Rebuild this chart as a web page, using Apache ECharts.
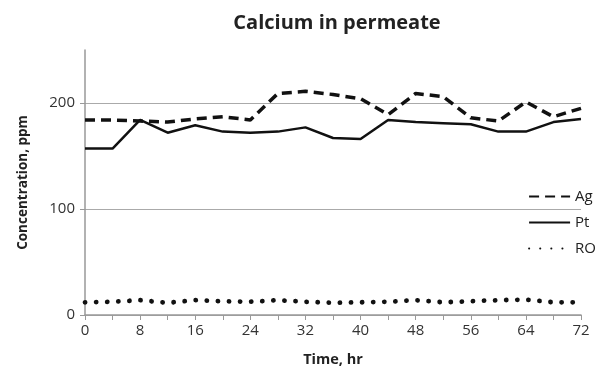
<!DOCTYPE html>
<html><head><meta charset="utf-8">
<script src="https://cdn.jsdelivr.net/npm/echarts@6/dist/echarts.min.js"></script>
<style>html,body{margin:0;padding:0;background:#fff}#c{width:607px;height:372px}</style>
</head><body><div id="c"></div>
<script>
const hours = [0,4,8,12,16,20,24,28,32,36,40,44,48,52,56,60,64,68,72];
const agValues = [184,184,183,182,185,187,184,209,211,208,204,189,209,206,186,183,201,187,195];
const ptValues = [157,157,184,172,179,173,172,173,177,167,166,184,182,181,180,173,173,182,185];
const roValues = [12,12.5,14,11.5,14,13,12.5,14,12.5,11.5,12,12.5,14,12,13,14,14.5,12,12];
const seriesNames = ['Ag','Pt','RO'];
const font = 'Open Sans';
const pair = v => hours.map((h,i)=>[h,v[i]]);
const chart = echarts.init(document.getElementById('c'));
chart.setOption({
  animation:false,
  textStyle:{fontFamily:font},
  title:{text:'Calcium in permeate',left:332,textAlign:'center',top:8,
    textStyle:{fontFamily:font,fontSize:20,fontWeight:'bold',color:'#222'}},
  grid:{left:85,right:26,top:50,bottom:55},
  legend:{orient:'vertical',right:6,top:184,itemGap:11,itemWidth:41,itemHeight:14,
    data:seriesNames,itemStyle:{opacity:0},
    textStyle:{fontFamily:font,fontSize:15,color:'#222'}},
  xAxis:{type:'value',min:0,max:72,interval:4,
    name:'Time, hr',nameLocation:'middle',nameGap:37,
    nameTextStyle:{fontFamily:font,fontWeight:'bold',fontSize:14.5,color:'#222'},
    axisLine:{lineStyle:{color:'#999',width:1.5}},
    axisTick:{show:true,length:5,lineStyle:{color:'#999'}},
    splitLine:{show:false},
    axisLabel:{fontFamily:font,fontSize:15,color:'#333',margin:8,
      formatter:v=> (v%8===0? String(v):'')}},
  yAxis:{type:'value',min:0,max:250,interval:100,
    name:'Concentration, ppm',nameLocation:'middle',nameGap:55,nameRotate:90,
    nameTextStyle:{fontFamily:font,fontWeight:'bold',fontSize:13.5,color:'#222'},
    axisLine:{show:true,lineStyle:{color:'#999',width:1.5}},
    axisTick:{show:true,length:5,lineStyle:{color:'#999'}},
    splitLine:{showMaxLine:false,lineStyle:{color:'#aaa',width:1}},
    axisLabel:{fontFamily:font,fontSize:15,color:'#333',margin:10,showMaxLabel:false,
      formatter:v=> (v%100===0? String(v):'')}},
  series:[
    {name:'Ag',type:'line',data:pair(agValues),symbol:'none',
      lineStyle:{color:'#111',width:3.5,type:[10,6]},itemStyle:{color:'#111'}},
    {name:'Pt',type:'line',data:pair(ptValues),symbol:'none',
      lineStyle:{color:'#111',width:2.5,type:'solid'},itemStyle:{color:'#111'}},
    {name:'RO',type:'line',data:pair(roValues),symbol:'none',
      lineStyle:{color:'#111',width:4.8,type:[0.1,11],cap:'round'},itemStyle:{color:'#111'}}
  ]
});
</script></body></html>
